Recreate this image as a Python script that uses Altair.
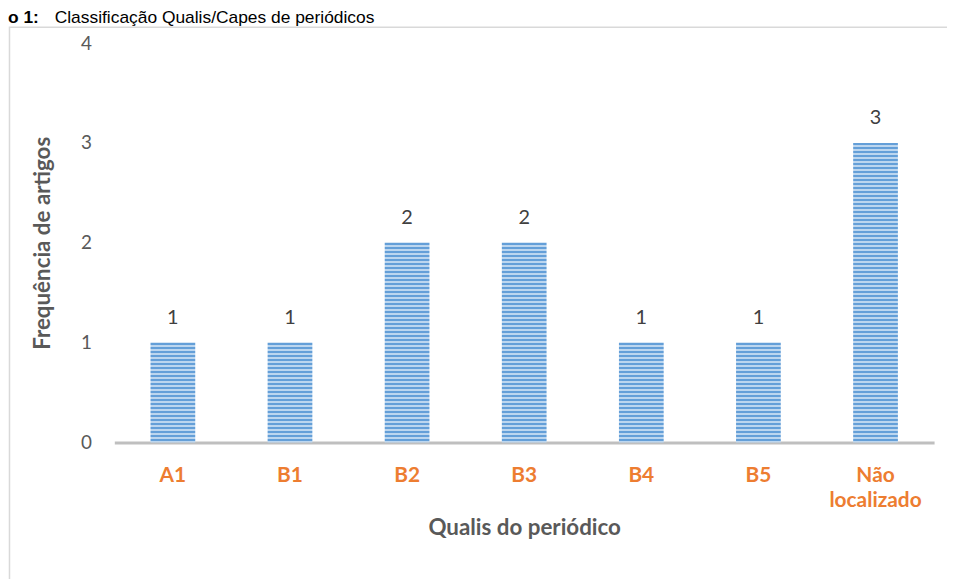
import altair as alt
import pandas as pd

categories = ["A1", "B1", "B2", "B3", "B4", "B5", "Não localizado"]
values = [1, 1, 2, 2, 1, 1, 3]
y_ticks = [0, 1, 2, 3, 4]
title_bold = "o 1:"
title_rest = "Classificação Qualis/Capes de periódicos"
x_title = "Qualis do periódico"
y_title = "Frequência de artigos"

df = pd.DataFrame({"cat": categories, "value": values})

W, H = 825, 402
DARK = "#649fd8"
LIGHT = "#bcd6ef"

x_enc = alt.X(
    "cat:N", sort=categories,
    scale=alt.Scale(paddingInner=0.618, paddingOuter=0.309),
    axis=alt.Axis(
        title=x_title, labelAngle=0, ticks=False, domainColor="#bfbfbf", domainWidth=3,
        labelColor="#ed7d31", labelFont="Lato", labelFontWeight="bold", labelFontSize=21,
        labelPadding=22, labelLineHeight=25, labelExpr="split(datum.label, ' ')",
        titleFont="Lato", titleFontSize=22.5, titleFontWeight="bold", titleColor="#595959",
        titleY=86, titleBaseline="middle",
    ),
)
y_enc = alt.Y(
    "value:Q",
    scale=alt.Scale(domain=[0, 4]),
    axis=alt.Axis(
        values=y_ticks, format="d", title=y_title, domain=False, ticks=False, grid=False,
        labelFont="Lato", labelFontSize=19, labelColor="#595959", labelPadding=23,
        titleFont="Lato", titleFontSize=22.5, titleFontWeight="bold", titleColor="#595959",
        titleX=-72, titleY=H / 2, titleAngle=-90, titleBaseline="middle",
    ),
)


def stripes(v):
    n = int(25 * v)
    stops = []
    for i in range(n):
        stops.append(alt.GradientStop(offset=i / n, color=DARK))
        stops.append(alt.GradientStop(offset=(i + 0.5) / n, color=DARK))
        stops.append(alt.GradientStop(offset=(i + 0.5) / n, color=LIGHT))
        stops.append(alt.GradientStop(offset=(i + 1) / n, color=LIGHT))
    return alt.Gradient(gradient="linear", stops=stops, x1=0, x2=0, y1=0, y2=1)


base = alt.Chart(df)
layers = []
for v in sorted(set(values)):
    layers.append(
        base.mark_bar(color=stripes(v))
        .encode(x=x_enc, y=y_enc)
        .transform_filter(alt.datum.value == v)
    )

labels = base.mark_text(
    font="Lato", fontSize=20, color="#404040", baseline="middle", dy=-25
).encode(x=alt.X("cat:N", sort=categories), y="value:Q", text="value:Q")

one = alt.Data(values=[{"a": 1}])
frame = alt.Chart(one).mark_rect(filled=False, stroke="#d9d9d9", strokeWidth=1.5).encode(
    x=alt.value(-105.5), x2=alt.value(900), y=alt.value(-16), y2=alt.value(600)
)
t1 = alt.Chart(one).mark_text(
    text=title_bold, font="Liberation Sans", fontSize=17.5, fontWeight="bold",
    align="left", baseline="alphabetic", color="#000000"
).encode(x=alt.value(-107), y=alt.value(-20.5))
t2 = alt.Chart(one).mark_text(
    text=title_rest, font="Liberation Sans", fontSize=17.5,
    align="left", baseline="alphabetic", color="#000000"
).encode(x=alt.value(-60), y=alt.value(-20.5))

chart = alt.layer(frame, *layers, labels, t1, t2).properties(
    width=W, height=H,
    autosize=alt.AutoSizeParams(type="none"),
    padding={"left": 107, "top": 33.5, "right": 13, "bottom": 135},
).configure_view(stroke=None)

chart.save("out.html", embed_options={"renderer": "svg", "actions": False})
